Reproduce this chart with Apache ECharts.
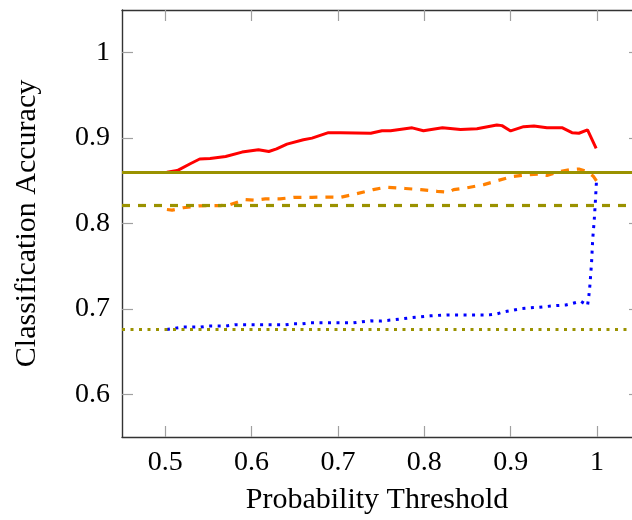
<!DOCTYPE html>
<html>
<head>
<meta charset="utf-8">
<script src="https://cdn.jsdelivr.net/npm/echarts@6/dist/echarts.min.js"></script>
<style>html,body{margin:0;padding:0;background:#fff}#c{width:632px;height:520px}</style>
</head>
<body>
<div id="c"></div>
<script>
// Data
var xTicks = [0.5, 0.6, 0.7, 0.8, 0.9, 1.0];
var yTicks = [0.6, 0.7, 0.8, 0.9, 1.0];

var redX = [0.502,0.514,0.529,0.540,0.552,0.570,0.589,0.608,0.620,0.629,0.641,0.660,0.670,0.689,0.703,0.738,0.751,0.761,0.786,0.799,0.821,0.842,0.861,0.884,0.890,0.900,0.915,0.927,0.942,0.960,0.971,0.979,0.989,0.999];
var redY = [0.860,0.862,0.870,0.8755,0.876,0.8785,0.8836,0.8863,0.8843,0.8874,0.893,0.898,0.900,0.9064,0.9064,0.9057,0.9087,0.9087,0.912,0.9087,0.912,0.910,0.911,0.9154,0.9146,0.9084,0.9134,0.9142,0.912,0.912,0.9064,0.9057,0.9096,0.888];

var orangeX = [0.502,0.508,0.521,0.539,0.564,0.575,0.593,0.604,0.616,0.633,0.649,0.670,0.687,0.703,0.718,0.741,0.755,0.778,0.796,0.815,0.828,0.834,0.849,0.869,0.884,0.902,0.921,0.933,0.942,0.956,0.969,0.979,0.989,0.996,1.0];
var orangeY = [0.8164,0.8156,0.8184,0.8207,0.821,0.822,0.828,0.8272,0.8288,0.8288,0.8307,0.8307,0.831,0.8307,0.834,0.8397,0.8424,0.841,0.8397,0.8377,0.8366,0.8397,0.8417,0.8455,0.850,0.855,0.8572,0.858,0.8563,0.8607,0.863,0.8638,0.8607,0.855,0.849];

var blueX = [0.502,0.512,0.521,0.541,0.550,0.570,0.581,0.639,0.649,0.658,0.668,0.718,0.728,0.738,0.749,0.767,0.786,0.807,0.826,0.846,0.875,0.884,0.894,0.913,0.933,0.952,0.964,0.972,0.981,0.989,0.9905,0.9917,0.9937,0.995,0.9967,0.998,0.9995];
var blueY = [0.676,0.6775,0.6787,0.6787,0.680,0.680,0.6814,0.6814,0.6825,0.6825,0.6837,0.6837,0.685,0.686,0.6857,0.6875,0.6899,0.6919,0.693,0.693,0.693,0.6942,0.6969,0.7004,0.702,0.7038,0.7046,0.7066,0.709,0.704,0.7148,0.727,0.7544,0.7815,0.8028,0.824,0.852];

var baselineSolid = 0.860;
var baselineDashed = 0.821;
var baselineDotted = 0.6756;

function pairs(xs, ys){ return xs.map(function(x,i){ return [x, ys[i]]; }); }

var FONT = 'Liberation Serif';
var chart = echarts.init(document.getElementById('c'), null, {renderer:'canvas'});
var tickStyle = {show:true, inside:true, length:11, lineStyle:{color:'#a0a0a0', width:1.2}};
var axisLineStyle = {show:true, lineStyle:{color:'#333', width:1.4}};
var olive = '#9a9200';

chart.setOption({
  animation:false,
  backgroundColor:'#fff',
  grid:{left:122, top:10, right:0, height:429},
  xAxis:[{
    type:'value', min:0.45, max:1.0405, position:'bottom',
    axisLine:axisLineStyle,
    axisTick:Object.assign({customValues:xTicks}, tickStyle),
    axisLabel:{customValues:xTicks, fontFamily:FONT, fontSize:28, color:'#000', margin:12},
    splitLine:{show:false},
    name:'Probability Threshold', nameLocation:'middle', nameGap:48,
    nameTextStyle:{fontFamily:FONT, fontSize:30, color:'#000'}
  },{
    type:'value', min:0.45, max:1.0405, position:'top',
    axisLine:axisLineStyle,
    axisTick:Object.assign({customValues:xTicks}, tickStyle),
    axisLabel:{show:false}, splitLine:{show:false}
  }],
  yAxis:[{
    type:'value', min:0.55, max:1.05, position:'left',
    axisLine:axisLineStyle,
    axisTick:Object.assign({customValues:yTicks}, tickStyle),
    axisLabel:{customValues:yTicks, fontFamily:FONT, fontSize:28, color:'#000', margin:12},
    splitLine:{show:false},
    name:'Classification Accuracy', nameLocation:'middle', nameGap:80, nameRotate:90,
    nameTextStyle:{fontFamily:FONT, fontSize:30, color:'#000'}
  },{
    type:'value', min:0.55, max:1.05, position:'right', offset:8,
    axisLine:{show:false},
    axisTick:Object.assign({customValues:yTicks}, tickStyle),
    axisLabel:{show:false}, splitLine:{show:false}
  }],
  series:[
    {
      type:'line', data:[], z:1, silent:true,
      markLine:{
        symbol:'none', silent:true, animation:false, precision:5, label:{show:false},
        data:[
          {yAxis:baselineSolid, lineStyle:{color:olive, width:3.2, type:'solid'}},
          {yAxis:baselineDashed, lineStyle:{color:olive, width:3.2, type:[8,8]}},
          {yAxis:baselineDotted, lineStyle:{color:olive, width:3.2, type:[3,5.5]}}
        ]
      }
    },
    {type:'line', data:pairs(redX, redY), showSymbol:false, symbol:'none', z:3,
     lineStyle:{color:'#ff0000', width:3}},
    {type:'line', data:pairs(orangeX, orangeY), showSymbol:false, symbol:'none', z:3,
     lineStyle:{color:'#ff8000', width:3.2, type:[8,8]}},
    {type:'line', data:pairs(blueX, blueY), showSymbol:false, symbol:'none', z:3,
     lineStyle:{color:'#0000ff', width:3, type:[3,5.5]}}
  ]
});
</script>
</body>
</html>
